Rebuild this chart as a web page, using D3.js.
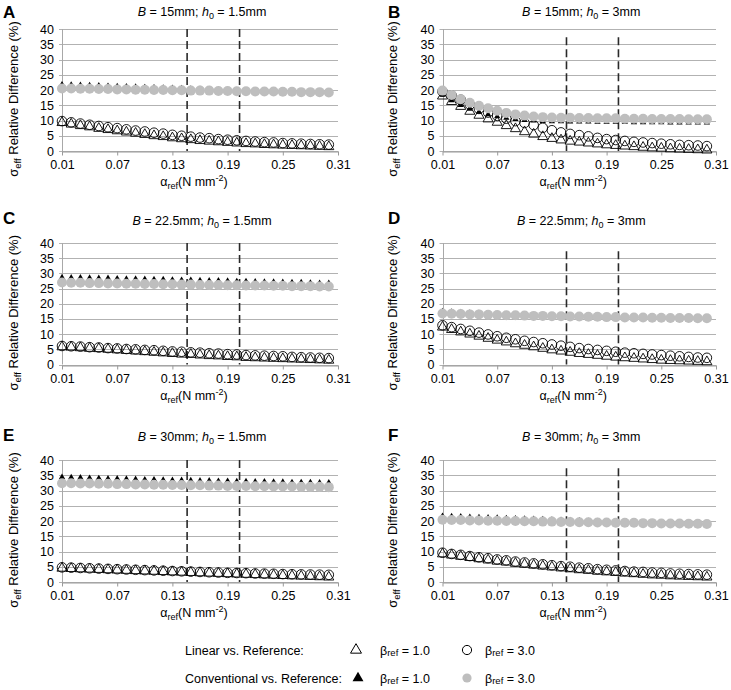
<!DOCTYPE html>
<html>
<head>
<meta charset="utf-8">
<script src="https://cdn.jsdelivr.net/npm/d3@7"></script>
<style>
body { margin: 0; background: #fff; }
text { font-family: "Liberation Sans", Arial, sans-serif; fill: #000; }
</style>
</head>
<body>
<svg id="chart" width="731" height="690"></svg>
<script>
// x values (alpha_ref, N mm-2)
var alphaRef = [0.01, 0.02, 0.03, 0.04, 0.05, 0.06, 0.07, 0.08, 0.09, 0.10,
                0.11, 0.12, 0.13, 0.14, 0.15, 0.16, 0.17, 0.18, 0.19, 0.20,
                0.21, 0.22, 0.23, 0.24, 0.25, 0.26, 0.27, 0.28, 0.29, 0.30];
var xTicks = [0.01, 0.07, 0.13, 0.19, 0.25, 0.31];
var yTicks = [0, 5, 10, 15, 20, 25, 30, 35, 40];
var dashAlpha = [0.146, 0.203];

// A: B = 15mm, h0 = 1.5mm
var aLin1  = [9.3, 8.8, 8.3, 7.9, 7.4, 7.0, 6.6, 6.2, 5.8, 5.4, 5.0, 4.7, 4.3, 4.0, 3.7, 3.4, 3.2, 3.0, 2.8, 2.6, 2.4, 2.3, 2.1, 2.0, 1.9, 1.8, 1.7, 1.6, 1.5, 1.4];
var aLin3  = [9.8, 9.4, 9.0, 8.6, 8.2, 7.8, 7.5, 7.1, 6.7, 6.4, 6.0, 5.7, 5.3, 5.0, 4.7, 4.4, 4.2, 3.9, 3.7, 3.5, 3.3, 3.1, 2.9, 2.8, 2.6, 2.5, 2.4, 2.3, 2.2, 2.1];
var aConv1 = [21.8, 21.7, 21.6, 21.5, 21.4, 21.3, 21.2, 21.1, 21.0, 20.9, 20.8, 20.7, 20.6, 20.5, 20.4, 20.3, 20.2, 20.1, 20.0, 19.9, 19.8, 19.7, 19.6, 19.5, 19.4, 19.3, 19.2, 19.1, 19.0, 18.9];
var aConv3 = [20.5, 20.5, 20.4, 20.4, 20.3, 20.3, 20.2, 20.2, 20.1, 20.1, 20.0, 20.0, 19.9, 19.9, 19.8, 19.8, 19.8, 19.7, 19.7, 19.6, 19.6, 19.5, 19.5, 19.5, 19.4, 19.4, 19.3, 19.3, 19.3, 19.2];

// B: B = 15mm, h0 = 3mm
var bLin1  = [18.0, 16.2, 14.6, 13.0, 11.7, 10.5, 9.4, 8.3, 7.3, 6.3, 5.5, 4.7, 4.1, 3.6, 3.2, 2.9, 2.6, 2.3, 2.0, 1.8, 1.6, 1.4, 1.2, 1.0, 0.9, 0.7, 0.6, 0.5, 0.4, 0.3];
var bLin3  = [19.5, 18.2, 16.8, 15.2, 13.8, 12.6, 11.5, 10.6, 9.8, 9.2, 8.5, 7.6, 6.8, 6.1, 5.6, 5.2, 4.8, 4.3, 3.9, 3.6, 3.3, 3.0, 2.8, 2.6, 2.4, 2.2, 2.0, 1.9, 1.8, 1.6];
var bConv1 = [18.4, 16.6, 15.0, 13.8, 12.8, 12.0, 11.3, 10.8, 10.4, 10.1, 9.9, 9.8, 9.7, 9.7, 9.6, 9.6, 9.6, 9.5, 9.5, 9.5, 9.5, 9.4, 9.4, 9.4, 9.4, 9.3, 9.3, 9.3, 9.3, 9.3];
var bConv3 = [19.8, 18.4, 17.0, 15.8, 14.8, 14.0, 13.2, 12.5, 12.0, 11.6, 11.3, 11.1, 11.0, 10.9, 10.9, 10.8, 10.8, 10.7, 10.7, 10.7, 10.6, 10.6, 10.6, 10.5, 10.5, 10.5, 10.5, 10.4, 10.4, 10.4];

// C: B = 22.5mm, h0 = 1.5mm
var cLin1  = [5.8, 5.7, 5.5, 5.3, 5.2, 5.0, 4.8, 4.6, 4.4, 4.2, 4.0, 3.8, 3.6, 3.4, 3.3, 3.1, 2.9, 2.8, 2.6, 2.5, 2.3, 2.2, 2.1, 2.0, 1.9, 1.8, 1.7, 1.6, 1.5, 1.4];
var cLin3  = [6.1, 6.0, 5.9, 5.7, 5.6, 5.4, 5.3, 5.1, 5.0, 4.8, 4.7, 4.5, 4.3, 4.2, 4.0, 3.9, 3.7, 3.6, 3.4, 3.3, 3.1, 3.0, 2.9, 2.8, 2.7, 2.5, 2.4, 2.3, 2.2, 2.1];
var cConv1 = [28.7, 28.6, 28.6, 28.5, 28.4, 28.4, 28.3, 28.2, 28.2, 28.1, 28.0, 28.0, 27.9, 27.8, 27.8, 27.7, 27.6, 27.6, 27.5, 27.4, 27.4, 27.3, 27.2, 27.2, 27.1, 27.0, 27.0, 26.9, 26.8, 26.8];
var cConv3 = [27.0, 26.9, 26.9, 26.8, 26.8, 26.7, 26.7, 26.6, 26.6, 26.5, 26.5, 26.4, 26.4, 26.3, 26.3, 26.2, 26.2, 26.2, 26.1, 26.1, 26.0, 26.0, 26.0, 25.9, 25.9, 25.8, 25.8, 25.8, 25.7, 25.7];

// D: B = 22.5mm, h0 = 3mm
var dLin1  = [12.3, 11.5, 10.7, 10.0, 9.3, 8.6, 8.0, 7.4, 6.8, 6.3, 5.8, 5.3, 4.8, 4.4, 4.0, 3.6, 3.3, 3.0, 2.7, 2.4, 2.2, 2.0, 1.8, 1.6, 1.4, 1.3, 1.2, 1.1, 1.0, 0.9];
var dLin3  = [12.9, 12.3, 11.7, 11.1, 10.5, 9.9, 9.3, 8.8, 8.3, 7.8, 7.4, 7.0, 6.6, 6.2, 5.8, 5.4, 5.1, 4.8, 4.5, 4.2, 3.9, 3.7, 3.5, 3.3, 3.1, 2.9, 2.7, 2.5, 2.3, 2.2];
var dConv1 = [17.5, 17.3, 17.2, 17.0, 16.9, 16.7, 16.6, 16.5, 16.3, 16.2, 16.1, 16.0, 15.9, 15.8, 15.7, 15.6, 15.5, 15.4, 15.3, 15.2, 15.2, 15.1, 15.0, 14.9, 14.9, 14.8, 14.7, 14.7, 14.6, 14.6];
var dConv3 = [16.8, 16.7, 16.6, 16.5, 16.5, 16.4, 16.3, 16.2, 16.2, 16.1, 16.0, 16.0, 15.9, 15.9, 15.8, 15.8, 15.7, 15.7, 15.6, 15.6, 15.5, 15.5, 15.5, 15.4, 15.4, 15.3, 15.3, 15.3, 15.2, 15.2];

// E: B = 30mm, h0 = 1.5mm
var eLin1  = [4.5, 4.4, 4.3, 4.2, 4.1, 4.0, 3.9, 3.8, 3.7, 3.6, 3.5, 3.4, 3.3, 3.2, 3.1, 3.0, 2.9, 2.8, 2.7, 2.6, 2.5, 2.4, 2.3, 2.2, 2.1, 2.0, 1.9, 1.8, 1.7, 1.6];
var eLin3  = [4.8, 4.7, 4.6, 4.5, 4.4, 4.3, 4.2, 4.1, 4.0, 3.9, 3.8, 3.7, 3.6, 3.5, 3.4, 3.3, 3.2, 3.1, 3.0, 2.95, 2.9, 2.8, 2.75, 2.7, 2.6, 2.55, 2.5, 2.45, 2.4, 2.35];
var eConv1 = [34.4, 34.3, 34.2, 34.1, 34.0, 33.9, 33.9, 33.8, 33.7, 33.6, 33.6, 33.5, 33.4, 33.4, 33.3, 33.2, 33.2, 33.1, 33.1, 33.0, 33.0, 32.9, 32.9, 32.8, 32.8, 32.7, 32.7, 32.7, 32.6, 32.6];
var eConv3 = [32.4, 32.4, 32.3, 32.3, 32.2, 32.2, 32.1, 32.1, 32.0, 32.0, 31.9, 31.9, 31.8, 31.8, 31.7, 31.7, 31.6, 31.6, 31.5, 31.5, 31.5, 31.4, 31.4, 31.3, 31.3, 31.3, 31.2, 31.2, 31.2, 31.1];

// F: B = 30mm, h0 = 3mm
var fLin1  = [9.2, 8.8, 8.4, 8.0, 7.6, 7.2, 6.8, 6.5, 6.1, 5.8, 5.5, 5.2, 4.9, 4.6, 4.3, 4.0, 3.8, 3.5, 3.3, 3.1, 2.9, 2.7, 2.5, 2.3, 2.2, 2.0, 1.9, 1.8, 1.7, 1.6];
var fLin3  = [9.6, 9.2, 8.9, 8.5, 8.1, 7.8, 7.4, 7.1, 6.7, 6.4, 6.1, 5.8, 5.5, 5.2, 5.0, 4.7, 4.5, 4.2, 4.0, 3.8, 3.6, 3.4, 3.3, 3.1, 3.0, 2.8, 2.7, 2.6, 2.5, 2.4];
var fConv1 = [21.6, 21.5, 21.4, 21.3, 21.2, 21.1, 21.0, 20.9, 20.8, 20.7, 20.6, 20.5, 20.4, 20.3, 20.2, 20.1, 20.0, 19.9, 19.8, 19.7, 19.6, 19.5, 19.4, 19.3, 19.2, 19.1, 19.0, 18.9, 18.8, 18.7];
var fConv3 = [20.4, 20.3, 20.3, 20.2, 20.2, 20.1, 20.1, 20.0, 20.0, 19.9, 19.9, 19.8, 19.8, 19.7, 19.7, 19.6, 19.6, 19.5, 19.5, 19.4, 19.4, 19.4, 19.3, 19.3, 19.2, 19.2, 19.2, 19.1, 19.1, 19.0];

var panelIds = ["A", "B", "C", "D", "E", "F"];
var panelB   = ["15", "15", "22.5", "22.5", "30", "30"];
var panelH0  = ["1.5", "3", "1.5", "3", "1.5", "3"];
var panelData = [
    [aLin1, aLin3, aConv1, aConv3],
    [bLin1, bLin3, bConv1, bConv3],
    [cLin1, cLin3, cConv1, cConv3],
    [dLin1, dLin3, dConv1, dConv3],
    [eLin1, eLin3, eConv1, eConv3],
    [fLin1, fLin3, fConv1, fConv3]
];

// layout
var colX = [[62, 338], [442.5, 716]];
var rowY = [[29, 151], [243, 364.5], [460, 582]];
var titleY = [16, 225, 441];
var letterY = [18, 224, 441];
var letterX = [3, 388];
var dashTop = [40, 37.3];
var grey = "#bebebe";

var svg = d3.select("#chart");

var triBig = d3.symbol().type(d3.symbolTriangle).size(44);
var triSmall = d3.symbol().type(d3.symbolTriangle).size(17);

function drawPanel(i) {
    var col = i % 2, row = Math.floor(i / 2);
    var x0 = colX[col][0], x1 = colX[col][1];
    var yT = rowY[row][0], yB = rowY[row][1];

    var x = d3.scaleLinear().domain([0.01, 0.31]).range([x0, x1]);
    var y = d3.scaleLinear().domain([0, 40]).range([yB, yT]);

    var g = svg.append("g").attr("class", "panel");

    // grid lines
    g.selectAll(".grid")
        .data(yTicks)
        .enter().append("line")
        .attr("class", "grid")
        .attr("x1", x0 - 3).attr("x2", x1)
        .attr("y1", function (d) { return Math.round(y(d)) + 0.5; })
        .attr("y2", function (d) { return Math.round(y(d)) + 0.5; })
        .attr("stroke", "#b2b2b2");

    g.selectAll(".ylab")
        .data(yTicks)
        .enter().append("text")
        .attr("class", "ylab")
        .attr("x", x0 - 8)
        .attr("y", function (d) { return y(d); })
        .attr("dy", "0.36em")
        .attr("text-anchor", "end")
        .style("font-size", "12.5px")
        .text(function (d) { return d; });

    // y axis line
    g.append("line")
        .attr("x1", Math.round(x0) + 0.5).attr("x2", Math.round(x0) + 0.5)
        .attr("y1", yT).attr("y2", yB)
        .attr("stroke", "#a8a8a8");

    // x axis
    var xAxis = d3.axisBottom(x)
        .tickValues(xTicks)
        .tickFormat(d3.format(".2f"))
        .tickSize(4)
        .tickSizeOuter(0)
        .tickPadding(5);
    var ax = g.append("g")
        .attr("transform", "translate(0," + (Math.round(yB) + 0.5) + ")")
        .call(xAxis);
    ax.select(".domain").attr("stroke", "#999");
    ax.selectAll(".tick line").attr("stroke", "#999");
    ax.selectAll(".tick text")
        .style("font-size", "12.5px")
        .style("font-family", "'Liberation Sans', Arial, sans-serif")
        .attr("fill", "#000");

    // dashed reference lines
    g.selectAll(".dash")
        .data(dashAlpha)
        .enter().append("line")
        .attr("class", "dash")
        .attr("x1", function (d) { return x(d); })
        .attr("x2", function (d) { return x(d); })
        .attr("y1", y(dashTop[col]))
        .attr("y2", yB)
        .attr("stroke", "#2a2a2a")
        .attr("stroke-width", 1.6)
        .attr("stroke-dasharray", "8,4");

    var sets = panelData[i];

    // Linear vs. Reference, beta 1.0 (open triangles)
    g.selectAll(".lin1")
        .data(sets[0])
        .enter().append("path")
        .attr("d", triBig)
        .attr("transform", function (d, j) { return "translate(" + x(alphaRef[j]) + "," + y(d) + ")"; })
        .attr("fill", "none").attr("stroke", "#000").attr("stroke-width", 0.9);

    // Linear vs. Reference, beta 3.0 (open circles)
    g.selectAll(".lin3")
        .data(sets[1])
        .enter().append("circle")
        .attr("cx", function (d, j) { return x(alphaRef[j]); })
        .attr("cy", function (d) { return y(d); })
        .attr("r", 4.8)
        .attr("fill", "none").attr("stroke", "#000").attr("stroke-width", 0.9);

    // Conventional vs. Reference, beta 1.0 (filled triangles)
    g.selectAll(".conv1")
        .data(sets[2])
        .enter().append("path")
        .attr("d", triSmall)
        .attr("transform", function (d, j) { return "translate(" + x(alphaRef[j]) + "," + y(d) + ")"; })
        .attr("fill", "#000");

    // Conventional vs. Reference, beta 3.0 (grey dots)
    g.selectAll(".conv3")
        .data(sets[3])
        .enter().append("circle")
        .attr("cx", function (d, j) { return x(alphaRef[j]); })
        .attr("cy", function (d) { return y(d); })
        .attr("r", 5)
        .attr("fill", grey);

    // panel letter
    g.append("text")
        .attr("x", letterX[col]).attr("y", letterY[row])
        .style("font-size", "17px").style("font-weight", "bold")
        .text(panelIds[i]);

    // panel title
    var t = g.append("text")
        .attr("x", (x0 + x1) / 2 + 2).attr("y", titleY[row])
        .attr("text-anchor", "middle")
        .style("font-size", "12.5px");
    t.append("tspan").style("font-style", "italic").text("B");
    t.append("tspan").text(" = " + panelB[i] + "mm;  ");
    t.append("tspan").style("font-style", "italic").text("h");
    t.append("tspan").attr("dy", 3).style("font-size", "9px").text("0");
    t.append("tspan").attr("dy", -3).text(" = " + panelH0[i] + "mm");

    // y axis title
    var yc = (yT + yB) / 2 + 9;
    var yt = g.append("text")
        .attr("transform", "translate(" + (col == 0 ? 18 : 397) + "," + yc + ") rotate(-90)")
        .attr("text-anchor", "middle")
        .style("font-size", "13px");
    yt.append("tspan").text("\u03C3");
    yt.append("tspan").attr("dy", 3).style("font-size", "9.5px").text("eff");
    yt.append("tspan").attr("dy", -3).text(" Relative Difference (%)");

    // x axis title
    var xt = g.append("text")
        .attr("x", (x0 + x1) / 2 - 6).attr("y", yB + 35)
        .attr("text-anchor", "middle")
        .style("font-size", "12.5px");
    xt.append("tspan").text("\u03B1");
    xt.append("tspan").attr("dy", 3).style("font-size", "9px").text("ref");
    xt.append("tspan").attr("dy", -3).text("(N mm");
    xt.append("tspan").attr("dy", -5).style("font-size", "9px").text("-2");
    xt.append("tspan").attr("dy", 5).text(")");
}

for (var i = 0; i < 6; i++) drawPanel(i);

// legend
var legendRows = ["Linear vs. Reference:", "Conventional vs. Reference:"];
var legendY = [650, 678];
var leg = svg.append("g").attr("class", "legend");

function betaLabel(xp, yp, val) {
    var t = leg.append("text")
        .attr("x", xp).attr("y", yp + 4.5)
        .style("font-size", "12.5px");
    t.append("tspan").text("\u03B2");
    t.append("tspan").attr("dy", 1).style("font-size", "9.5px").text("ref");
    t.append("tspan").attr("dy", -1).text(" = " + val);
}

leg.selectAll(".lt")
    .data(legendRows)
    .enter().append("text")
    .attr("x", 185)
    .attr("y", function (d, j) { return legendY[j] + 4.5; })
    .style("font-size", "12.5px")
    .text(function (d) { return d; });

leg.append("path").attr("d", d3.symbol().type(d3.symbolTriangle).size(52))
    .attr("transform", "translate(356," + legendY[0] + ")")
    .attr("fill", "none").attr("stroke", "#000").attr("stroke-width", 1);
leg.append("circle").attr("cx", 467).attr("cy", legendY[0]).attr("r", 4.6)
    .attr("fill", "none").attr("stroke", "#000").attr("stroke-width", 1);
leg.append("path").attr("d", d3.symbol().type(d3.symbolTriangle).size(52))
    .attr("transform", "translate(358," + legendY[1] + ")")
    .attr("fill", "#000");
leg.append("circle").attr("cx", 467).attr("cy", legendY[1]).attr("r", 4.6)
    .attr("fill", grey);

betaLabel(380, legendY[0], "1.0");
betaLabel(485, legendY[0], "3.0");
betaLabel(380, legendY[1], "1.0");
betaLabel(485, legendY[1], "3.0");
</script>
</body>
</html>
